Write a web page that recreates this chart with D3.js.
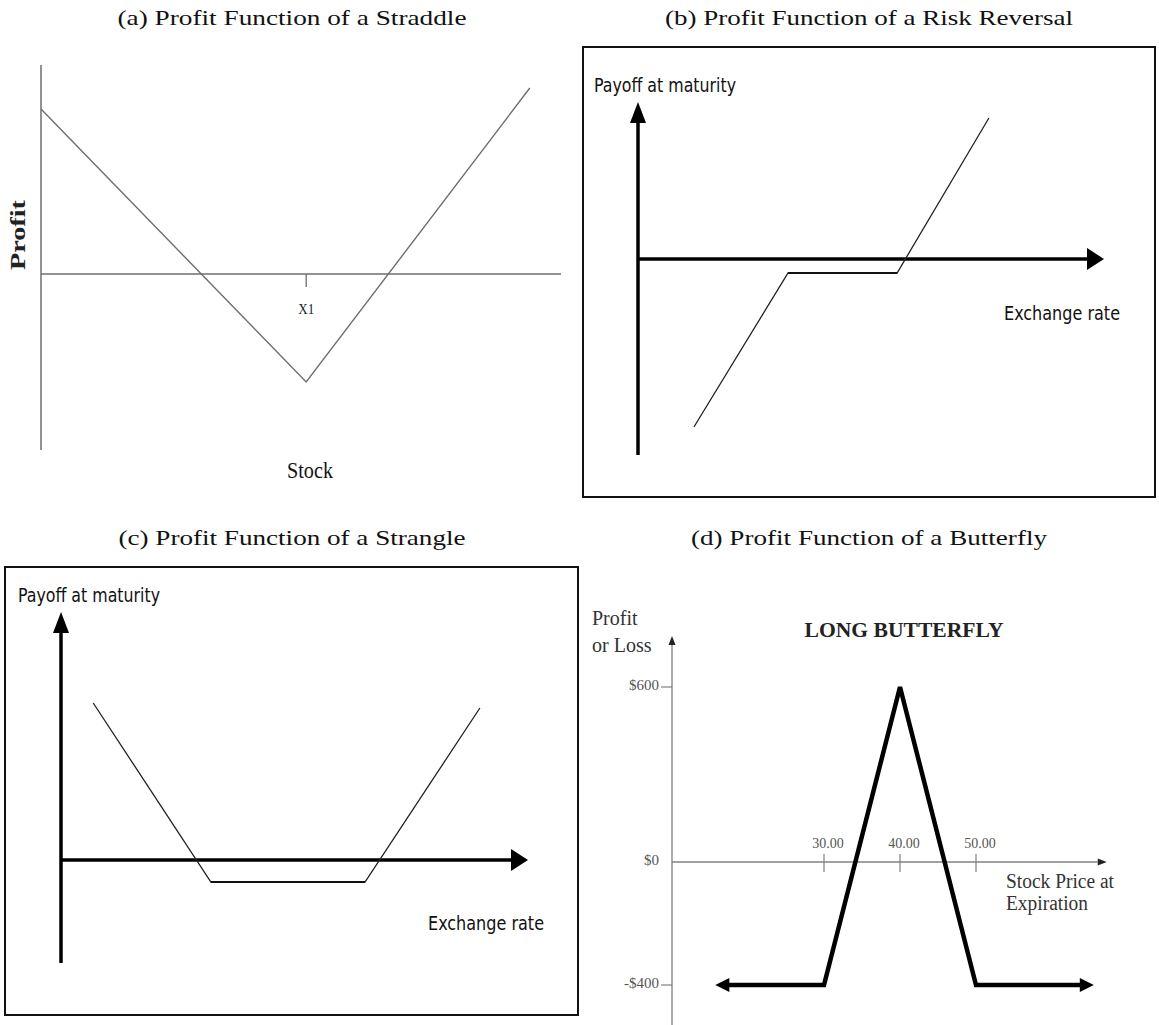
<!DOCTYPE html>
<html>
<head>
<meta charset="utf-8">
<script src="https://cdn.jsdelivr.net/npm/d3@7"></script>
<style>
  body { margin: 0; background: #fff; }
  svg { display: block; }
  .title { font-family: "Liberation Serif", serif; font-size: 21px; fill: #111; }
  .sans { font-family: "Liberation Sans Narrow", "DejaVu Sans Condensed", sans-serif; font-size: 19px; fill: #111; }
  .serif { font-family: "Liberation Serif", serif; fill: #222; }
</style>
</head>
<body>
<div id="chart"></div>
<script>
// ---- data ----
const titles = [
  "(a) Profit Function of a Straddle",
  "(b) Profit Function of a Risk Reversal",
  "(c) Profit Function of a Strangle",
  "(d) Profit Function of a Butterfly"
];

// (a) straddle: stock vs profit (schematic units)
const straddleStock = [0, 51, 94];
const straddleProfit = [165, -108, 186];
const straddleStrike = 51;

// (b) risk reversal: exchange rate vs payoff
const riskRate = [12, 32.2, 55.6, 75.3];
const riskPayoff = [-168, -14, -14, 141];

// (c) strangle
const strangleRate = [6.9, 32.1, 65.1, 89.7];
const stranglePayoff = [157, -22, -22, 152];

// (d) long butterfly
const flyPrice = [15.7, 30, 40, 50, 65.5];
const flyProfit = [-400, -400, 600, -400, -400];
const flyXTicks = [30, 40, 50];
const flyYTicks = [600, 0, -400];
const flyYLabels = ["$600", "$0", "-$400"];

const W = 1159, H = 1025;
const svg = d3.select("#chart").append("svg").attr("width", W).attr("height", H);

function arrowHead(g, tip, dir, len, half, fill) {
    // dir: unit vector pointing toward tip
    const [tx, ty] = tip, [dx, dy] = dir;
    const bx = tx - dx * len, by = ty - dy * len;
    const px = -dy, py = dx;
    g.append("path")
        .attr("d", `M${tx},${ty}L${bx + px * half},${by + py * half}L${bx - px * half},${by - py * half}Z`)
        .attr("fill", fill);
}

// titles
const titlePos = [[292, 20, 349], [869, 20, 408], [292, 540, 347], [869, 540, 356]];
svg.selectAll("text.title").data(titles).join("text")
    .attr("class", "title")
    .attr("x", (d, i) => titlePos[i][0])
    .attr("y", (d, i) => titlePos[i][1])
    .attr("text-anchor", "middle")
    .attr("dominant-baseline", "middle")
    .attr("textLength", (d, i) => titlePos[i][2])
    .attr("lengthAdjust", "spacingAndGlyphs")
    .text(d => d);

// ---------- (a) straddle ----------
{
    const x = d3.scaleLinear().domain([0, 100]).range([41, 561]);
    const y = d3.scaleLinear().domain([-176, 209]).range([450, 65]);
    const g = svg.append("g");
    const grey = "#6e6e6e";
    g.append("line").attr("x1", x(0)).attr("x2", x(0)).attr("y1", y(209)).attr("y2", y(-176))
        .attr("stroke", grey).attr("stroke-width", 1.5);
    g.append("line").attr("x1", x(0)).attr("x2", x(100)).attr("y1", y(0)).attr("y2", y(0))
        .attr("stroke", grey).attr("stroke-width", 1.5);
    g.append("line").attr("x1", x(straddleStrike)).attr("x2", x(straddleStrike))
        .attr("y1", y(0)).attr("y2", y(0) + 13).attr("stroke", grey).attr("stroke-width", 1.3);
    const line = d3.line().x((d, i) => x(straddleStock[i])).y(d => y(d));
    g.append("path").datum(straddleProfit).attr("d", line)
        .attr("fill", "none").attr("stroke", grey).attr("stroke-width", 1.4);
    g.append("text").attr("class", "serif").attr("x", x(straddleStrike)).attr("y", y(0) + 40)
        .attr("text-anchor", "middle").style("font-size", "15px")
        .attr("textLength", 16).attr("lengthAdjust", "spacingAndGlyphs").text("X1");
    g.append("text").attr("class", "serif").attr("x", 310).attr("y", 478)
        .attr("text-anchor", "middle").style("font-size", "23px").style("fill", "#111")
        .attr("textLength", 46).attr("lengthAdjust", "spacingAndGlyphs").text("Stock");
    g.append("text").attr("class", "serif")
        .attr("transform", "translate(25,235) rotate(-90)")
        .attr("text-anchor", "middle").style("font-size", "20px").style("font-weight", "bold")
        .attr("textLength", 70).attr("lengthAdjust", "spacingAndGlyphs").text("Profit");
}

// ---------- (b) and (c) share a look ----------
function payoffPanel(frame, xr, yDom, yr, rates, payoffs, labelPos) {
    const x = d3.scaleLinear().domain([0, 100]).range(xr);
    const y = d3.scaleLinear().domain(yDom).range(yr);
    const g = svg.append("g");
    g.append("rect").attr("x", frame[0]).attr("y", frame[1])
        .attr("width", frame[2] - frame[0]).attr("height", frame[3] - frame[1])
        .attr("fill", "none").attr("stroke", "#111").attr("stroke-width", 2);
    // axes
    g.append("line").attr("x1", x(0)).attr("x2", x(0)).attr("y1", y(yDom[0])).attr("y2", y(yDom[1]) + 18)
        .attr("stroke", "#000").attr("stroke-width", 3.5);
    arrowHead(g, [x(0), y(yDom[1])], [0, -1], 21, 8, "#000");
    g.append("line").attr("x1", x(0)).attr("x2", x(100) - 15).attr("y1", y(0)).attr("y2", y(0))
        .attr("stroke", "#000").attr("stroke-width", 3.5);
    arrowHead(g, [x(100), y(0)], [1, 0], 17, 11, "#000");
    // payoff
    const line = d3.line().x((d, i) => x(rates[i])).y(d => y(d));
    g.append("path").datum(payoffs).attr("d", line)
        .attr("fill", "none").attr("stroke", "#222").attr("stroke-width", 1.3);
    g.append("line").attr("x1", x(rates[1])).attr("x2", x(rates[2]))
        .attr("y1", y(payoffs[1])).attr("y2", y(payoffs[2]))
        .attr("stroke", "#111").attr("stroke-width", 2.2);
    g.append("text").attr("class", "sans").attr("x", labelPos[0][0]).attr("y", labelPos[0][1])
        .attr("textLength", 142).attr("lengthAdjust", "spacingAndGlyphs").text("Payoff at maturity");
    g.append("text").attr("class", "sans").attr("x", labelPos[1][0]).attr("y", labelPos[1][1])
        .attr("textLength", 116).attr("lengthAdjust", "spacingAndGlyphs").text("Exchange rate");
}

payoffPanel([583, 47, 1155, 497], [638, 1104], [-196, 157], [455, 102],
    riskRate, riskPayoff, [[594, 92], [1004, 320]]);
payoffPanel([5, 567, 578, 1015], [61, 528], [-103, 248], [963, 612],
    strangleRate, stranglePayoff, [[18, 602], [428, 930]]);

// ---------- (d) long butterfly ----------
{
    const x = d3.scaleLinear().domain([30, 50]).range([824, 976]);
    const y = d3.scaleLinear().domain([-400, 0, 600]).range([985, 862, 687]);
    const g = svg.append("g");
    const axisCol = "#808080";
    g.append("line").attr("x1", x(10)).attr("x2", x(10)).attr("y1", y(-560)).attr("y2", y(745))
        .attr("stroke", axisCol).attr("stroke-width", 1.3);
    arrowHead(g, [x(10), y(775)], [0, -1], 9, 3.5, "#222");
    g.append("line").attr("x1", x(10)).attr("x2", x(66)).attr("y1", y(0)).attr("y2", y(0))
        .attr("stroke", axisCol).attr("stroke-width", 1.3);
    arrowHead(g, [x(67.2), y(0)], [1, 0], 9, 3.5, "#222");

    g.selectAll("line.xt").data(flyXTicks).join("line").attr("class", "xt")
        .attr("x1", d => x(d)).attr("x2", d => x(d)).attr("y1", y(0) - 8).attr("y2", y(0) + 10)
        .attr("stroke", axisCol).attr("stroke-width", 1.2);
    g.selectAll("text.xt").data(flyXTicks).join("text").attr("class", "xt serif")
        .attr("x", d => x(d) + 4).attr("y", y(0) - 14)
        .attr("text-anchor", "middle").style("font-size", "14px").style("fill", "#555")
        .text(d => d.toFixed(2));

    g.selectAll("line.yt").data(flyYTicks.filter(d => d !== 0)).join("line").attr("class", "yt")
        .attr("x1", x(10) - 11).attr("x2", x(10)).attr("y1", d => y(d)).attr("y2", d => y(d))
        .attr("stroke", axisCol).attr("stroke-width", 1.2);
    g.selectAll("text.yt").data(flyYTicks).join("text").attr("class", "yt serif")
        .attr("x", x(10) - 13).attr("y", d => y(d))
        .attr("text-anchor", "end").attr("dominant-baseline", "middle")
        .style("font-size", "15px").style("fill", "#555")
        .text((d, i) => flyYLabels[i]);

    const n = flyPrice.length;
    // ends are pulled in a little so the arrowheads carry the tips
    g.append("path").datum(flyProfit)
        .attr("d", d3.line().x((d, i) => i === 0 ? x(flyPrice[0]) + 10 : i === n - 1 ? x(flyPrice[n - 1]) - 10 : x(flyPrice[i])).y(d => y(d)))
        .attr("fill", "none").attr("stroke", "#000").attr("stroke-width", 4.5).attr("stroke-linejoin", "miter");
    arrowHead(g, [x(flyPrice[0]), y(flyProfit[0])], [-1, 0], 14, 7, "#000");
    arrowHead(g, [x(flyPrice[n - 1]), y(flyProfit[n - 1])], [1, 0], 14, 7, "#000");

    g.append("text").attr("class", "serif").attr("x", 592).attr("y", 625)
        .style("font-size", "20px").style("fill", "#333").text("Profit");
    g.append("text").attr("class", "serif").attr("x", 592).attr("y", 652)
        .style("font-size", "20px").style("fill", "#333").text("or Loss");
    g.append("text").attr("class", "serif").attr("x", 904).attr("y", 637)
        .attr("text-anchor", "middle").style("font-size", "20px").style("font-weight", "bold")
        .attr("textLength", 199).attr("lengthAdjust", "spacingAndGlyphs").text("LONG BUTTERFLY");
    g.append("text").attr("class", "serif").attr("x", 1006).attr("y", 888)
        .style("font-size", "20px").style("fill", "#333")
        .attr("textLength", 108).attr("lengthAdjust", "spacingAndGlyphs").text("Stock Price at");
    g.append("text").attr("class", "serif").attr("x", 1006).attr("y", 910)
        .style("font-size", "20px").style("fill", "#333")
        .attr("textLength", 82).attr("lengthAdjust", "spacingAndGlyphs").text("Expiration");
}
</script>
</body>
</html>
